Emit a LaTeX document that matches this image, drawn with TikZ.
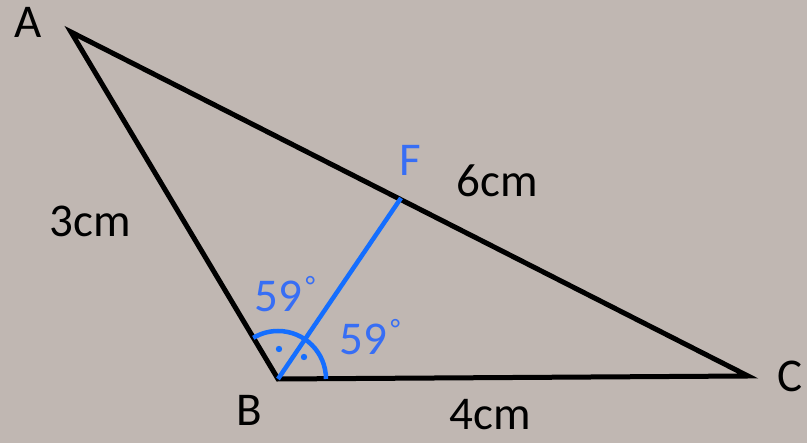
\documentclass[tikz,border=0pt]{standalone}
\usepackage{fontspec}
\setmainfont{Carlito}
\definecolor{bg}{RGB}{192,183,178}
\definecolor{myblue}{RGB}{20,110,255}
\definecolor{txtblue}{RGB}{55,110,245}
\newcommand{\mydeg}{\hspace{3pt}{\fontsize{28}{28}\selectfont\raisebox{0.55em}{°}}}
\begin{document}
\begin{tikzpicture}[x=1pt,y=-1pt,
  lbl/.style={font=\fontsize{47}{47}\selectfont, inner sep=0pt},
  blbl/.style={lbl, text=txtblue},
  side/.style={line width=5pt, black, line join=miter},
  bline/.style={line width=4.5pt, myblue}]
\fill[bg] (0,0) rectangle (807,443);
\useasboundingbox (0,0) rectangle (807,443);
\coordinate (A) at (71,32);
\coordinate (B) at (278,379);
\coordinate (C) at (748,376);
\coordinate (F) at (401,198);
\draw[side] (A) -- (B) -- (C) -- cycle;
\draw[bline] (B) -- (F);
\draw[bline] ([shift={(48,0)}]B) arc[start angle=0, end angle=-121, radius=48];
\fill[myblue] (279,349) circle (3.2);
\fill[myblue] (304,357) circle (3.2);
\node[lbl] (la) at (28,22) {A};
\node[lbl] (lb) at (249,410) {B};
\node[lbl] (lc) at (790,376) {C};
\node[blbl] (lf) at (410,160) {F};
\node[lbl] (l6) at (497,181) {6cm};
\node[lbl] (l3) at (90,221) {3cm};
\node[lbl] (l4) at (490,415) {4cm};
\node[blbl] (a1) at (285,294) {59\mydeg};
\node[blbl] (a2) at (370,337) {59\mydeg};
\end{tikzpicture}
\end{document}
